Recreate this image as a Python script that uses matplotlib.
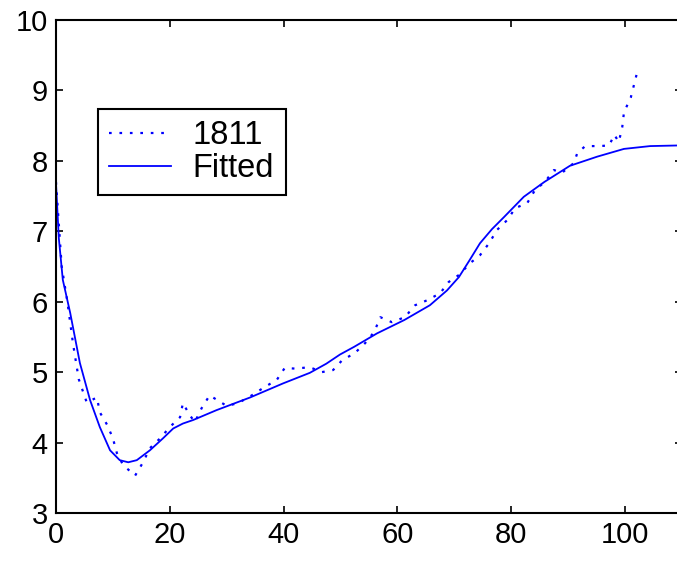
import matplotlib.pyplot as plt

plt.rcParams['font.family'] = ['Liberation Sans', 'DejaVu Sans']

# measured series "1811"
x_data = [0, 1, 2, 3, 4, 5.4, 7.2, 7.7, 9, 10, 10.7, 11.8, 13.9, 15.3, 16.5, 18.3,
          20, 21.8, 22.3, 23.5, 24.4, 25.6, 27, 30, 32, 34.4, 36.7, 38.8, 40.2, 42,
          44.6, 46.7, 48.7, 50.3, 52.5, 54.3, 55.9, 57, 59, 61.3, 63.1, 65.2, 67.5,
          69, 70.8, 72.8, 74.5, 76.1, 77.5, 79.3, 80.7, 82.8, 84.2, 85.9, 87.5, 88.9,
          91, 91.6, 93, 95.6, 97.2, 98.1, 98.9, 99.5, 99.8, 101, 102]
y_data = [7.7, 6.5, 6.0, 5.4, 4.9, 4.57, 4.64, 4.43, 4.25, 4.06, 3.85, 3.68, 3.53, 3.72,
          3.92, 4.06, 4.22, 4.36, 4.56, 4.39, 4.29, 4.49, 4.67, 4.52, 4.56, 4.67, 4.79,
          4.89, 5.06, 5.05, 5.07, 5.0, 5.03, 5.17, 5.27, 5.41, 5.57, 5.78, 5.71, 5.78,
          5.95, 6.02, 6.12, 6.28, 6.38, 6.55, 6.66, 6.83, 7.02, 7.16, 7.33, 7.4, 7.59,
          7.7, 7.87, 7.83, 7.97, 8.11, 8.21, 8.21, 8.22, 8.37, 8.27, 8.48, 8.69, 8.9, 9.22]

# fitted curve
x_fit = [0, 0.5, 1.2, 2.5, 4.2, 6, 7.7, 9.5, 11.2, 12.7, 14.2, 16.5, 18.8, 20.6, 22.3,
         24.1, 28.2, 34.1, 39.9, 44.6, 47.5, 49.9, 52.4, 56.4, 61.2, 65.7, 68.7, 70.8,
         72.6, 74.5, 76.6, 78.7, 82.2, 85.8, 90.3, 95.1, 99.8, 104.4, 110]
y_fit = [7.68, 6.9, 6.31, 5.84, 5.13, 4.6, 4.22, 3.89, 3.75, 3.72, 3.75, 3.89, 4.06,
         4.2, 4.27, 4.32, 4.46, 4.64, 4.84, 4.99, 5.12, 5.25, 5.36, 5.55, 5.74, 5.95,
         6.16, 6.35, 6.58, 6.83, 7.03, 7.2, 7.49, 7.7, 7.93, 8.06, 8.17, 8.21, 8.22]

fig = plt.figure(figsize=(6.77, 5.61), dpi=100)
ax = fig.add_axes([0.0827, 0.0856, 0.9247, 0.8787])

ax.plot(x_data, y_data, color='blue', linestyle=(0, (1.2, 3.5)), linewidth=1.6,
        label='1811')
ax.plot(x_fit, y_fit, color='blue', linewidth=1.3, label='Fitted')

ax.set_xlim(0, 110)
ax.set_ylim(3, 10)
ax.set_xticks([0, 20, 40, 60, 80, 100])
ax.set_yticks([3, 4, 5, 6, 7, 8, 9, 10])
ax.tick_params(direction='in', length=5, width=1.2, labelsize=21, pad=6,
               top=True, right=True)
for s in ax.spines.values():
    s.set_linewidth(1.5)

leg = ax.legend(loc='upper left', bbox_to_anchor=(0.067, 0.8195), borderaxespad=0,
                fontsize=23.5, fancybox=False, framealpha=1, edgecolor='black',
                handlelength=1.9, handletextpad=0.65, borderpad=0.35,
                labelspacing=0.05)
leg.get_frame().set_linewidth(1.5)

fig.savefig('out.png', dpi=100)
